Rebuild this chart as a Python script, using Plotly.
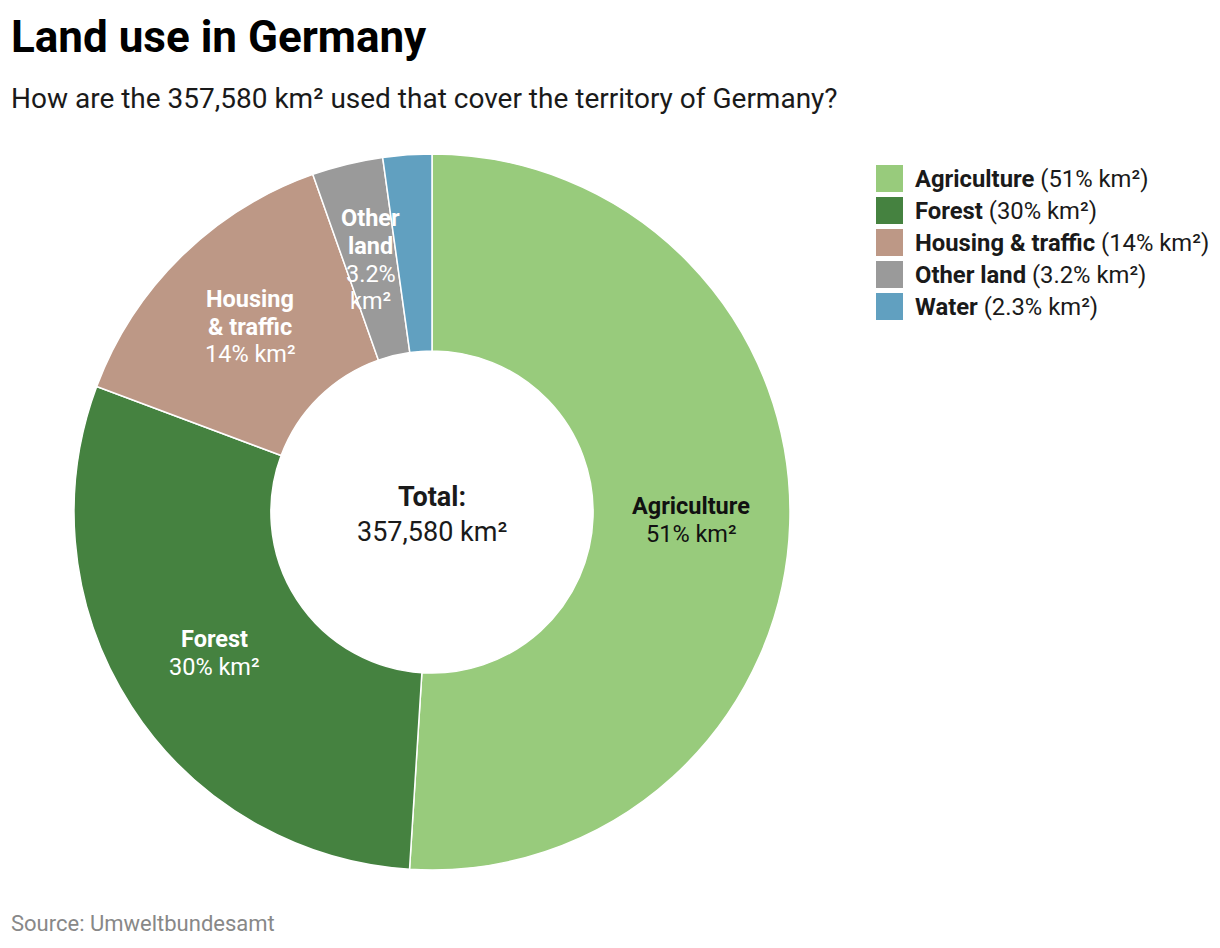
import math
import plotly.graph_objects as go

# data
categories = ["Agriculture", "Forest", "Housing & traffic", "Other land", "Water"]
slice_names = [["Agriculture"], ["Forest"], ["Housing", "& traffic"], ["Other", "land"], []]
slice_values = [["51% km²"], ["30% km²"], ["14% km²"], ["3.2%", "km²"], []]
shares = [51.0, 29.7, 13.9, 3.2, 2.2]
legend_text = ["51% km²", "30% km²", "14% km²", "3.2% km²", "2.3% km²"]
colors = ["#98cb7c", "#458240", "#bd9886", "#9a9a9a", "#61a0c0"]
label_colors = ["#111111", "white", "white", "white", "white"]
total_text = "357,580 km²"

W, H = 1220, 948
FONT = "Roboto"
OFF = 8  # page body margin in the screenshot


def px(x):
    return (x - OFF) / W


def py(y):
    return 1 - (y - OFF) / H


# pie placement (pixels as seen on the page)
cx, cy, R = 432, 512, 358
hole = 0.45

fig = go.Figure()
fig.add_trace(go.Pie(
    labels=categories,
    values=shares,
    hole=hole,
    sort=False,
    direction="clockwise",
    rotation=0,
    marker=dict(colors=colors, line=dict(color="white", width=1.5)),
    textinfo="none",
    hoverinfo="label+percent",
    showlegend=False,
    domain=dict(x=[px(cx - R), px(cx + R)], y=[py(cy + R), py(cy - R)]),
))

annotations = []


def text_block(x, y, lines, size, color, spacing):
    # stack lines (bold flag, text) centred on (x, y)
    n = len(lines)
    for i, (bold, t) in enumerate(lines):
        ly = y + (i - (n - 1) / 2) * spacing
        annotations.append(dict(
            x=px(x), y=py(ly), xref="paper", yref="paper",
            text=f"<b>{t}</b>" if bold else t, showarrow=False,
            font=dict(family=FONT, size=size, color=color),
            xanchor="center", yanchor="middle",
        ))


# slice labels at mid-ring, placed from the data angles
total = sum(shares)
cum = 0
r_mid = R * (1 + hole) / 2
for names, vals, val, col in zip(slice_names, slice_values, shares, label_colors):
    mid = (cum + val / 2) / total * 2 * math.pi
    cum += val
    if not names:
        continue
    lx = cx + r_mid * math.sin(mid)
    ly = cy - r_mid * math.cos(mid)
    lines = [(True, t) for t in names] + [(False, t) for t in vals]
    text_block(lx, ly, lines, 23.5, col, 27.6)

# centre label
text_block(cx, cy + 2, [(True, "Total:"), (False, total_text)], 27, "#1a1a1a", 35)

# custom legend
shapes = []
lx0, ly0, sw, step = 876, 165, 27, 32
for i, (name, txt, col) in enumerate(zip(categories, legend_text, colors)):
    top = ly0 + i * step
    shapes.append(dict(
        type="rect", xref="paper", yref="paper",
        x0=px(lx0), x1=px(lx0 + sw), y0=py(top), y1=py(top + sw),
        fillcolor=col, line=dict(width=0),
    ))
    annotations.append(dict(
        x=px(lx0 + sw + 10), y=py(top + sw / 2), xref="paper", yref="paper",
        text=f"<b>{name}</b> ({txt})", showarrow=False,
        font=dict(family=FONT, size=23.8, color="#1a1a1a"),
        xanchor="left", yanchor="middle",
    ))

# title, subtitle, source
annotations += [
    dict(x=px(9), y=py(37), xref="paper", yref="paper", text="<b>Land use in Germany</b>",
         showarrow=False, xanchor="left", yanchor="middle",
         font=dict(family=FONT, size=44, color="#000000")),
    dict(x=px(9), y=py(98), xref="paper", yref="paper",
         text="How are the 357,580 km² used that cover the territory of Germany?",
         showarrow=False, xanchor="left", yanchor="middle",
         font=dict(family=FONT, size=28, color="#1a1a1a")),
    dict(x=px(9), y=py(923), xref="paper", yref="paper", text="Source: Umweltbundesamt",
         showarrow=False, xanchor="left", yanchor="middle",
         font=dict(family=FONT, size=22, color="#888888")),
]

fig.update_layout(
    width=W, height=H,
    margin=dict(l=0, r=0, t=0, b=0),
    paper_bgcolor="white",
    plot_bgcolor="white",
    font=dict(family=FONT),
    annotations=annotations,
    shapes=shapes,
)

fig.write_html("out.html")
